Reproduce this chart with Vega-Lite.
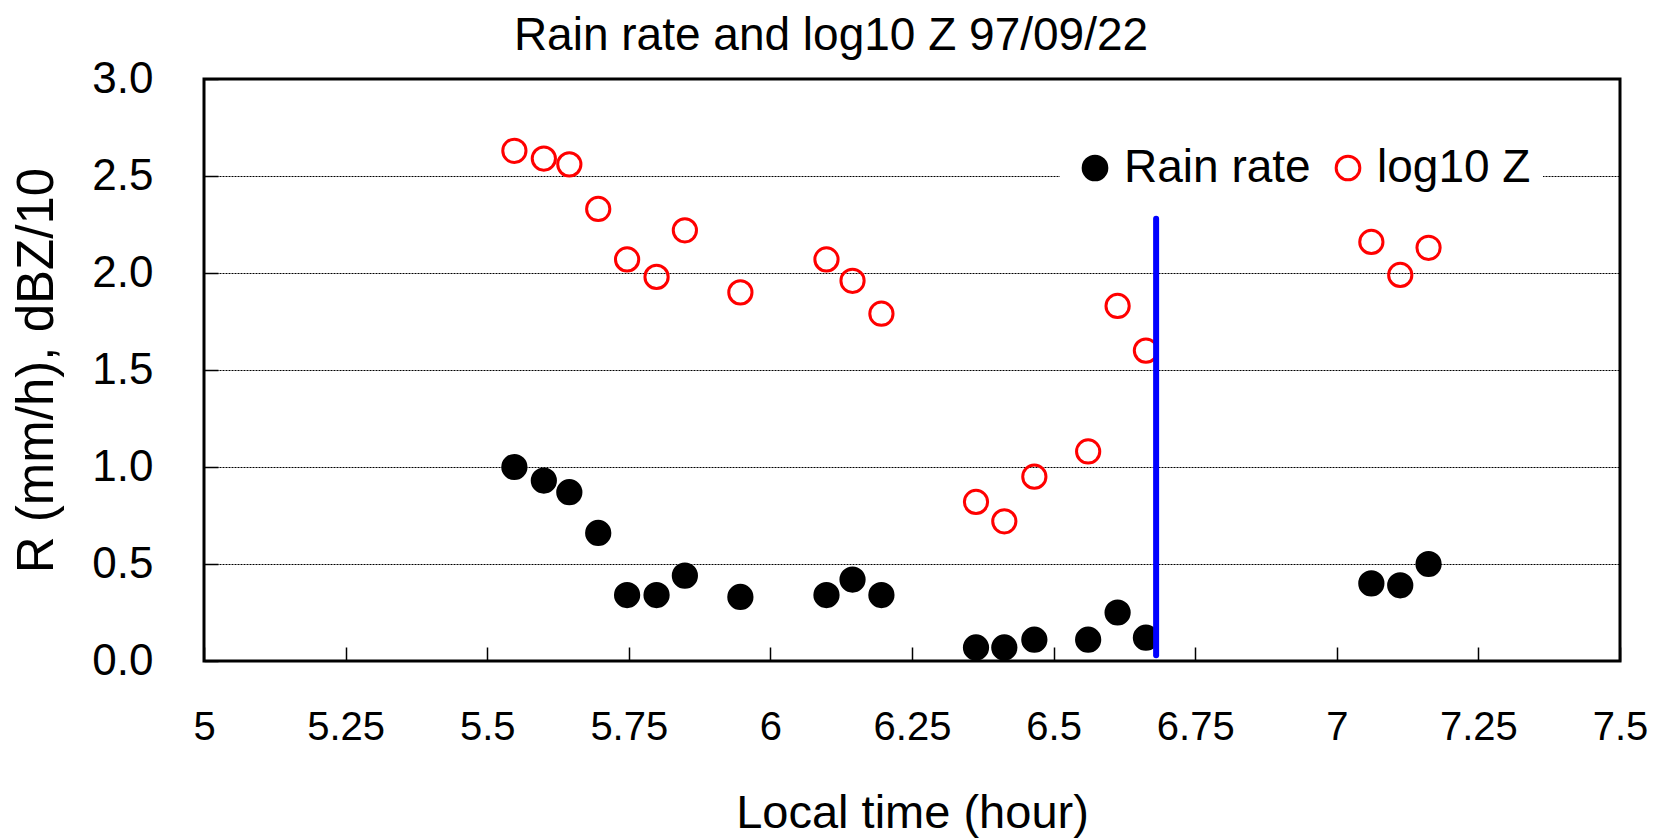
{
  "$schema": "https://vega.github.io/schema/vega-lite/v6.json",
  "width": 1416,
  "height": 582,
  "autosize": {"type": "none"},
  "padding": {"left": 204, "top": 79, "right": 41, "bottom": 177},
  "background": "white",
  "config": {
    "font": "Liberation Sans",
    "view": {"stroke": "#000", "strokeWidth": 3}
  },
  "title": {
    "text": "Rain rate and log10 Z 97/09/22",
    "fontSize": 46,
    "fontWeight": "normal",
    "font": "Liberation Sans",
    "color": "#000",
    "anchor": "middle",
    "dx": -81,
    "offset": -3
  },
  "datasets": {
    "obs": [
      {"t": 5.548, "v": 1.00, "series": "Rain rate"},
      {"t": 5.600, "v": 0.93, "series": "Rain rate"},
      {"t": 5.645, "v": 0.87, "series": "Rain rate"},
      {"t": 5.696, "v": 0.66, "series": "Rain rate"},
      {"t": 5.747, "v": 0.34, "series": "Rain rate"},
      {"t": 5.799, "v": 0.34, "series": "Rain rate"},
      {"t": 5.849, "v": 0.44, "series": "Rain rate"},
      {"t": 5.947, "v": 0.33, "series": "Rain rate"},
      {"t": 6.099, "v": 0.34, "series": "Rain rate"},
      {"t": 6.145, "v": 0.42, "series": "Rain rate"},
      {"t": 6.196, "v": 0.34, "series": "Rain rate"},
      {"t": 6.363, "v": 0.07, "series": "Rain rate"},
      {"t": 6.413, "v": 0.07, "series": "Rain rate"},
      {"t": 6.466, "v": 0.11, "series": "Rain rate"},
      {"t": 6.561, "v": 0.11, "series": "Rain rate"},
      {"t": 6.613, "v": 0.25, "series": "Rain rate"},
      {"t": 6.663, "v": 0.12, "series": "Rain rate"},
      {"t": 7.061, "v": 0.40, "series": "Rain rate"},
      {"t": 7.112, "v": 0.39, "series": "Rain rate"},
      {"t": 7.162, "v": 0.50, "series": "Rain rate"},
      {"t": 5.548, "v": 2.63, "series": "log10 Z"},
      {"t": 5.600, "v": 2.59, "series": "log10 Z"},
      {"t": 5.645, "v": 2.56, "series": "log10 Z"},
      {"t": 5.696, "v": 2.33, "series": "log10 Z"},
      {"t": 5.747, "v": 2.07, "series": "log10 Z"},
      {"t": 5.799, "v": 1.98, "series": "log10 Z"},
      {"t": 5.849, "v": 2.22, "series": "log10 Z"},
      {"t": 5.947, "v": 1.90, "series": "log10 Z"},
      {"t": 6.099, "v": 2.07, "series": "log10 Z"},
      {"t": 6.145, "v": 1.96, "series": "log10 Z"},
      {"t": 6.196, "v": 1.79, "series": "log10 Z"},
      {"t": 6.363, "v": 0.82, "series": "log10 Z"},
      {"t": 6.413, "v": 0.72, "series": "log10 Z"},
      {"t": 6.466, "v": 0.95, "series": "log10 Z"},
      {"t": 6.561, "v": 1.08, "series": "log10 Z"},
      {"t": 6.613, "v": 1.83, "series": "log10 Z"},
      {"t": 6.663, "v": 1.60, "series": "log10 Z"},
      {"t": 7.061, "v": 2.16, "series": "log10 Z"},
      {"t": 7.112, "v": 1.99, "series": "log10 Z"},
      {"t": 7.162, "v": 2.13, "series": "log10 Z"}
    ],
    "marker": [
      {"t": 6.681, "lo": 0.03, "hi": 2.28}
    ]
  },
  "layer": [
    {
      "data": {"name": "obs"},
      "mark": {"type": "point", "shape": "circle", "strokeWidth": 3, "opacity": 1, "filled": false},
      "encoding": {
        "x": {
          "field": "t",
          "type": "quantitative",
          "scale": {"domain": [5, 7.5], "nice": false, "zero": false},
          "axis": {
            "title": "Local time (hour)",
            "values": [5, 5.25, 5.5, 5.75, 6, 6.25, 6.5, 6.75, 7, 7.25, 7.5],
            "labelExpr": "'' + datum.value",
            "grid": false,
            "domain": false,
            "tickSize": -14,
            "tickColor": "#000",
            "tickWidth": 1.5,
            "labelPadding": 60,
            "labelFontSize": 40,
            "labelColor": "#000",
            "labelFlush": false,
            "labelOverlap": false,
            "titleFontSize": 47,
            "titleFontWeight": "normal",
            "titleColor": "#000",
            "titlePadding": 43
          }
        },
        "y": {
          "field": "v",
          "type": "quantitative",
          "scale": {"domain": [0, 3], "nice": false},
          "axis": {
            "title": "R (mm/h), dBZ/10",
            "values": [0, 0.5, 1, 1.5, 2, 2.5, 3],
            "format": ".1f",
            "grid": true,
            "gridColor": "#000",
            "gridDash": [2, 1],
            "gridWidth": 1,
            "domain": false,
            "tickSize": -14,
            "tickColor": "#000",
            "tickWidth": 1.5,
            "labelPadding": 65,
            "labelFontSize": 44,
            "labelColor": "#000",
            "labelFlush": false,
            "labelOverlap": false,
            "titleFontSize": 51,
            "titleFontWeight": "normal",
            "titleColor": "#000",
            "titlePadding": 28
          }
        },
        "stroke": {
          "field": "series",
          "type": "nominal",
          "scale": {"domain": ["Rain rate", "log10 Z"], "range": ["#000000", "#FF0000"]},
          "legend": {
            "title": null,
            "orient": "none",
            "legendX": 856,
            "legendY": 54,
            "direction": "horizontal",
            "fillColor": "white",
            "padding": 12,
            "labelFontSize": 46,
            "labelLimit": 0,
            "labelColor": "#000",
            "labelOffset": 6,
            "columnPadding": 14,
            "symbolSize": 560,
            "symbolStrokeWidth": 3
          }
        },
        "fill": {
          "field": "series",
          "type": "nominal",
          "scale": {"domain": ["Rain rate", "log10 Z"], "range": ["#000000", "transparent"]},
          "legend": {
            "title": null,
            "orient": "none",
            "legendX": 856,
            "legendY": 54,
            "direction": "horizontal",
            "fillColor": "white",
            "padding": 12,
            "labelFontSize": 46,
            "labelLimit": 0,
            "labelColor": "#000",
            "labelOffset": 6,
            "columnPadding": 14,
            "symbolSize": 560,
            "symbolStrokeWidth": 3
          }
        },
        "size": {"value": 540}
      }
    },
    {
      "data": {"name": "marker"},
      "mark": {"type": "rule", "color": "#0000FF", "strokeWidth": 6, "strokeCap": "round"},
      "encoding": {
        "x": {"field": "t", "type": "quantitative"},
        "y": {"field": "lo", "type": "quantitative"},
        "y2": {"field": "hi"}
      }
    }
  ]
}
